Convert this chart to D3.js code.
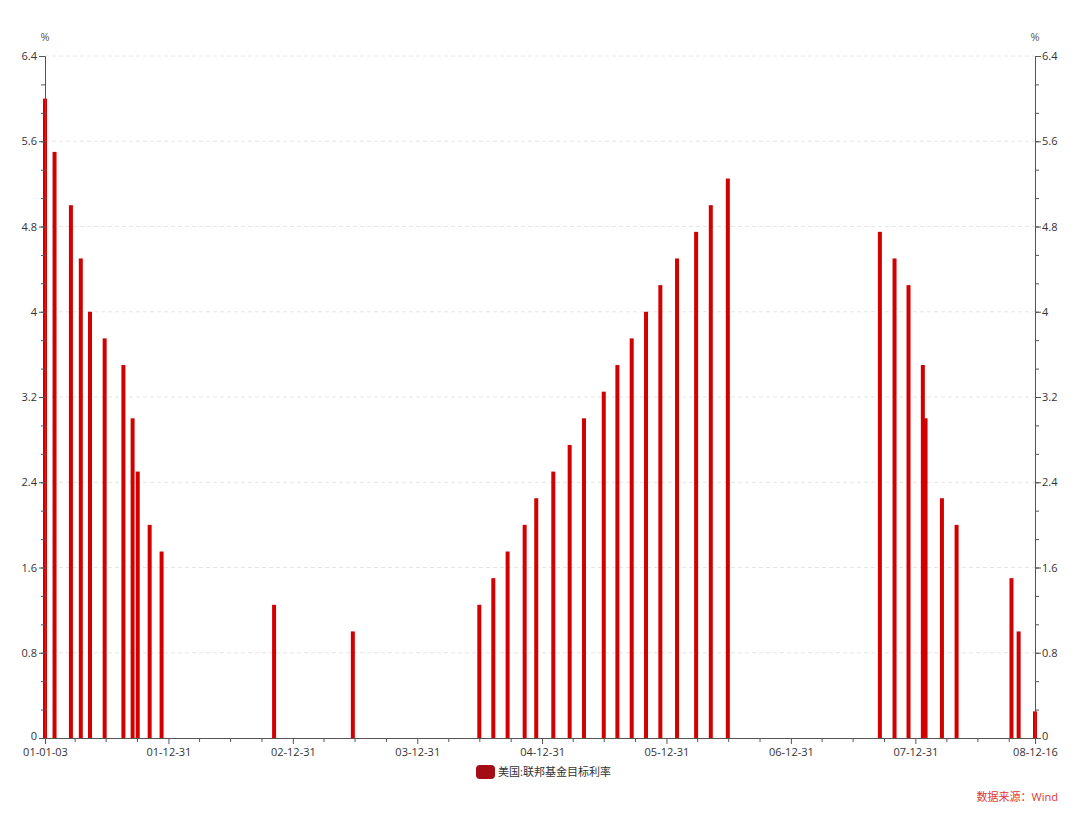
<!DOCTYPE html>
<html><head><meta charset="utf-8">
<script src="https://cdn.jsdelivr.net/npm/d3@7"></script>
<style>
html,body{margin:0;padding:0;background:#fff;}
text{font-family:"Open Sans","Noto Sans CJK SC",sans-serif;}
</style></head>
<body><svg id="c" width="1080" height="814"></svg>
<script>
const dates = ["2001-01-03","2001-01-31","2001-03-20","2001-04-18","2001-05-15","2001-06-27","2001-08-21","2001-09-17","2001-10-02","2001-11-06","2001-12-11",
"2002-11-06","2003-06-25",
"2004-06-30","2004-08-10","2004-09-21","2004-11-10","2004-12-14",
"2005-02-02","2005-03-22","2005-05-03","2005-06-30","2005-08-09","2005-09-20","2005-11-01","2005-12-13",
"2006-01-31","2006-03-28","2006-05-10","2006-06-29",
"2007-09-18","2007-10-31","2007-12-11",
"2008-01-22","2008-01-30","2008-03-18","2008-04-30","2008-10-08","2008-10-29","2008-12-16"];
const rates = [6.0,5.5,5.0,4.5,4.0,3.75,3.5,3.0,2.5,2.0,1.75,
1.25,1.0,
1.25,1.5,1.75,2.0,2.25,
2.5,2.75,3.0,3.25,3.5,3.75,4.0,4.25,
4.5,4.75,5.0,5.25,
4.75,4.5,4.25,
3.5,3.0,2.25,2.0,1.5,1.0,0.25];
const xTickLabels = ["01-01-03","01-12-31","02-12-31","03-12-31","04-12-31","05-12-31","06-12-31","07-12-31","08-12-16"];
const yTicks = [0,0.8,1.6,2.4,3.2,4.0,4.8,5.6,6.4];
const seriesName = "美国:联邦基金目标利率";
const sourceText = "数据来源：Wind";

const parse = d3.timeParse("%y-%m-%d");
const parseFull = d3.timeParse("%Y-%m-%d");
const data = dates.map((d,i)=>({date:parseFull(d), v:rates[i]}));
const tickDates = xTickLabels.map(parse);

const L=45, R=1035, T=56, B=738;
const svg = d3.select("#c");
const x = d3.scaleTime().domain([tickDates[0], tickDates[tickDates.length-1]]).range([L,R]);
const y = d3.scaleLinear().domain([0,6.4]).range([B,T]);

// gridlines
svg.append("g").selectAll("line").data(yTicks.filter(t=>t>0)).join("line")
  .attr("x1",L).attr("x2",R).attr("y1",d=>y(d)).attr("y2",d=>y(d))
  .attr("stroke","#e6e6e6").attr("stroke-dasharray","4,3").attr("stroke-width",1);

// bars
svg.append("g").selectAll("rect").data(data).join("rect")
  .attr("x",d=>x(d.date)-2).attr("width",4)
  .attr("y",d=>y(d.v)).attr("height",d=>B-y(d.v))
  .attr("fill","#d20000");

// minor y ticks
const yMinor = d3.range(0,25).map(i=>+(i*0.8/3).toFixed(4)).filter(v=>v<=6.4);
const axisColor="#555";
const fmtY = d=> d===0?"0":(Math.round(d*10)/10).toString();

// Left axis
const gl = svg.append("g").attr("transform",`translate(${L},0)`);
gl.call(d3.axisLeft(y).tickValues(yMinor).tickSize(4).tickFormat(""));
gl.selectAll(".domain").remove();
gl.selectAll(".tick line").attr("stroke",axisColor);
const gl2 = svg.append("g").attr("transform",`translate(${L},0)`);
gl2.call(d3.axisLeft(y).tickValues(yTicks).tickSize(6).tickPadding(2).tickFormat(fmtY));
gl2.selectAll(".domain").attr("stroke",axisColor);
gl2.selectAll(".tick line").attr("stroke",axisColor);
gl2.selectAll(".tick text").attr("fill","#333").style("font-size","11px");

// Right axis
const gr = svg.append("g").attr("transform",`translate(${R},0)`);
gr.call(d3.axisRight(y).tickValues(yMinor).tickSize(4).tickFormat(""));
gr.selectAll(".domain").remove();
gr.selectAll(".tick line").attr("stroke",axisColor);
const gr2 = svg.append("g").attr("transform",`translate(${R},0)`);
gr2.call(d3.axisRight(y).tickValues(yTicks).tickSize(6).tickPadding(1).tickFormat(fmtY));
gr2.selectAll(".domain").attr("stroke",axisColor);
gr2.selectAll(".tick line").attr("stroke",axisColor);
gr2.selectAll(".tick text").attr("fill","#333").style("font-size","11px");

// nudge the zero labels up slightly so they clear the date labels
[gl2, gr2].forEach(g=>g.selectAll(".tick text").filter(d=>d===0).attr("dy","0.12em"));

// unit labels
svg.append("text").attr("x",L).attr("y",41).attr("text-anchor","middle").attr("fill","#555").style("font-size","11px").text("%");
svg.append("text").attr("x",R).attr("y",41).attr("text-anchor","middle").attr("fill","#555").style("font-size","11px").text("%");

// x axis minor ticks (quarter ends)
const years = d3.range(2001,2009);
const xMinor = [];
years.forEach(yr=>["03-31","06-30","09-30"].forEach(md=>xMinor.push(parseFull(yr+"-"+md))));
const gx = svg.append("g").attr("transform",`translate(0,${B})`);
gx.call(d3.axisBottom(x).tickValues(xMinor).tickSize(4).tickFormat(""));
gx.selectAll(".domain").remove();
gx.selectAll(".tick line").attr("stroke",axisColor);
const gx2 = svg.append("g").attr("transform",`translate(0,${B})`);
gx2.call(d3.axisBottom(x).tickValues(tickDates).tickSize(6).tickPadding(4).tickFormat(d3.timeFormat("%y-%m-%d")));
gx2.selectAll(".domain").attr("stroke",axisColor);
gx2.selectAll(".tick line").attr("stroke",axisColor);
gx2.selectAll(".tick text").attr("fill","#333").style("font-size","11px");

// legend
const lg = svg.append("g");
lg.append("rect").attr("x",476).attr("y",765).attr("width",19).attr("height",14).attr("rx",4).attr("fill","#a50d16");
lg.append("text").attr("x",498).attr("y",776).attr("fill","#333").style("font-size","11px").text(seriesName);

// source
svg.append("text").attr("x",1058).attr("y",801).attr("text-anchor","end").attr("fill","#e03535").style("font-size","11px").text(sourceText);
</script></body></html>
